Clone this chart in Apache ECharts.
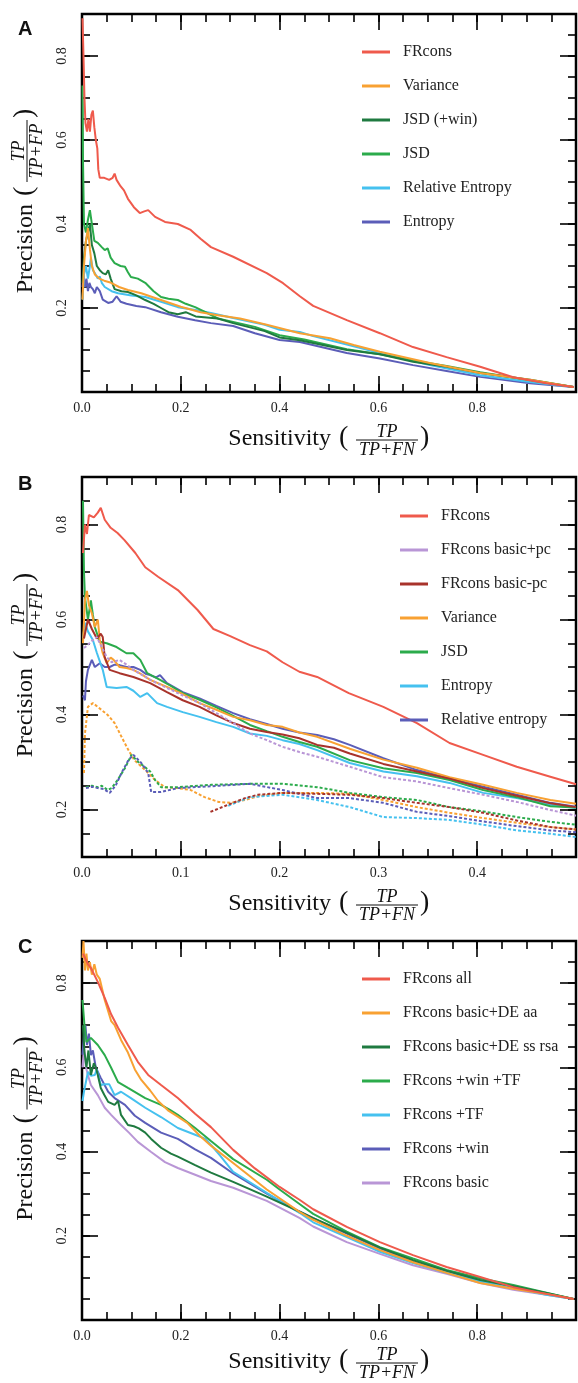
<!DOCTYPE html>
<html><head><meta charset="utf-8">
<script src="https://cdn.jsdelivr.net/npm/echarts@6/dist/echarts.min.js"></script>
<style>html,body{margin:0;padding:0;background:#fff}#c{width:578px;height:1383px}</style>
</head><body><div id="c"></div>
<script>
// ---------- tick labels ----------
const xTicksFull = [0, 0.2, 0.4, 0.6, 0.8];
const xTicksHalf = [0, 0.1, 0.2, 0.3, 0.4];
const yTicks = [0.2, 0.4, 0.6, 0.8];

// ---------- Panel A ----------
const aNames = ['FRcons', 'Variance', 'JSD (+win)', 'JSD', 'Relative Entropy', 'Entropy'];
const aFRcons = [[0.001,0.89],[0.003,0.80],[0.005,0.70],[0.007,0.64],[0.010,0.62],[0.013,0.65],[0.016,0.62],[0.019,0.66],[0.022,0.67],[0.025,0.63],[0.028,0.60],[0.031,0.58],[0.033,0.53],[0.036,0.51],[0.045,0.51],[0.055,0.505],[0.062,0.51],[0.066,0.52],[0.070,0.505],[0.078,0.49],[0.085,0.48],[0.093,0.46],[0.105,0.44],[0.117,0.426],[0.126,0.43],[0.134,0.433],[0.148,0.417],[0.168,0.405],[0.194,0.40],[0.22,0.386],[0.24,0.365],[0.261,0.345],[0.306,0.322],[0.374,0.283],[0.407,0.259],[0.441,0.228],[0.468,0.205],[0.536,0.171],[0.603,0.140],[0.67,0.107],[0.738,0.083],[0.806,0.06],[0.873,0.035],[0.94,0.021],[0.995,0.012]];
const aVariance = [[0.001,0.22],[0.004,0.30],[0.008,0.36],[0.012,0.39],[0.016,0.34],[0.02,0.30],[0.026,0.28],[0.035,0.27],[0.045,0.265],[0.059,0.26],[0.075,0.25],[0.093,0.243],[0.12,0.235],[0.16,0.219],[0.2,0.203],[0.24,0.19],[0.275,0.183],[0.32,0.175],[0.374,0.16],[0.441,0.14],[0.502,0.128],[0.55,0.112],[0.603,0.096],[0.704,0.069],[0.806,0.045],[0.907,0.029],[0.995,0.012]];
const aJSDwin = [[0.001,0.26],[0.004,0.32],[0.008,0.36],[0.012,0.38],[0.016,0.40],[0.02,0.35],[0.025,0.33],[0.03,0.30],[0.036,0.29],[0.042,0.283],[0.048,0.28],[0.053,0.29],[0.058,0.27],[0.066,0.245],[0.08,0.24],[0.093,0.238],[0.11,0.23],[0.128,0.219],[0.145,0.21],[0.16,0.2],[0.175,0.19],[0.194,0.185],[0.21,0.19],[0.23,0.18],[0.275,0.175],[0.306,0.164],[0.37,0.145],[0.40,0.13],[0.441,0.123],[0.536,0.10],[0.603,0.09],[0.67,0.072],[0.738,0.06],[0.806,0.045],[0.907,0.029],[0.995,0.012]];
const aJSD = [[0.001,0.73],[0.002,0.55],[0.004,0.40],[0.008,0.38],[0.012,0.41],[0.016,0.433],[0.02,0.40],[0.025,0.36],[0.032,0.355],[0.04,0.345],[0.046,0.338],[0.052,0.342],[0.058,0.32],[0.066,0.307],[0.078,0.30],[0.087,0.298],[0.093,0.285],[0.099,0.274],[0.113,0.27],[0.128,0.26],[0.145,0.24],[0.16,0.226],[0.175,0.222],[0.194,0.219],[0.21,0.21],[0.229,0.202],[0.25,0.19],[0.275,0.175],[0.306,0.167],[0.35,0.155],[0.40,0.135],[0.45,0.125],[0.536,0.102],[0.603,0.09],[0.67,0.075],[0.738,0.062],[0.806,0.047],[0.907,0.028],[0.995,0.012]];
const aRelEnt = [[0.001,0.22],[0.004,0.28],[0.008,0.30],[0.012,0.27],[0.016,0.30],[0.018,0.32],[0.022,0.29],[0.026,0.283],[0.032,0.27],[0.036,0.275],[0.04,0.26],[0.046,0.25],[0.06,0.24],[0.073,0.235],[0.1,0.23],[0.128,0.226],[0.16,0.215],[0.194,0.202],[0.23,0.195],[0.261,0.188],[0.306,0.176],[0.37,0.16],[0.40,0.148],[0.441,0.143],[0.468,0.133],[0.536,0.113],[0.603,0.093],[0.704,0.064],[0.806,0.04],[0.907,0.024],[0.995,0.012]];
const aEntropy = [[0.001,0.25],[0.003,0.28],[0.006,0.25],[0.009,0.27],[0.012,0.24],[0.015,0.26],[0.018,0.25],[0.022,0.245],[0.026,0.235],[0.03,0.25],[0.036,0.24],[0.042,0.22],[0.053,0.212],[0.062,0.215],[0.07,0.228],[0.078,0.215],[0.09,0.21],[0.11,0.205],[0.128,0.202],[0.16,0.19],[0.194,0.179],[0.229,0.171],[0.261,0.164],[0.306,0.157],[0.35,0.14],[0.40,0.124],[0.441,0.119],[0.536,0.093],[0.603,0.08],[0.67,0.064],[0.738,0.05],[0.806,0.036],[0.907,0.021],[0.995,0.012]];

// ---------- Panel B ----------
const bNames = ['FRcons', 'FRcons basic+pc', 'FRcons basic-pc', 'Variance', 'JSD', 'Entropy', 'Relative entropy'];
const bFRcons = [[0.001,0.74],[0.003,0.80],[0.005,0.78],[0.007,0.82],[0.012,0.815],[0.016,0.825],[0.019,0.835],[0.023,0.81],[0.029,0.793],[0.036,0.782],[0.043,0.767],[0.054,0.74],[0.064,0.71],[0.077,0.69],[0.097,0.662],[0.117,0.62],[0.133,0.58],[0.15,0.565],[0.17,0.546],[0.187,0.533],[0.203,0.51],[0.22,0.49],[0.238,0.479],[0.27,0.445],[0.305,0.416],[0.339,0.382],[0.372,0.34],[0.406,0.315],[0.44,0.29],[0.474,0.269],[0.5,0.253]];
const bBasicPlus = [[0.002,0.54],[0.005,0.545],[0.01,0.555],[0.015,0.563],[0.018,0.55],[0.025,0.521],[0.03,0.51],[0.038,0.515],[0.045,0.505],[0.052,0.494],[0.069,0.473],[0.086,0.456],[0.102,0.44],[0.119,0.424],[0.136,0.403],[0.153,0.382],[0.17,0.36],[0.187,0.346],[0.203,0.332],[0.22,0.321],[0.238,0.311],[0.271,0.29],[0.305,0.268],[0.339,0.259],[0.372,0.245],[0.406,0.231],[0.44,0.216],[0.474,0.199],[0.5,0.187]];
const bBasicMinus = [[0.002,0.56],[0.006,0.60],[0.01,0.58],[0.015,0.56],[0.019,0.57],[0.021,0.563],[0.023,0.521],[0.028,0.494],[0.038,0.487],[0.052,0.479],[0.069,0.466],[0.086,0.447],[0.102,0.43],[0.119,0.416],[0.136,0.398],[0.153,0.382],[0.17,0.37],[0.187,0.363],[0.203,0.358],[0.22,0.35],[0.238,0.336],[0.255,0.33],[0.271,0.318],[0.305,0.296],[0.339,0.28],[0.372,0.265],[0.406,0.245],[0.44,0.229],[0.474,0.213],[0.5,0.205]];
const bVariance = [[0.001,0.55],[0.003,0.64],[0.005,0.66],[0.007,0.63],[0.01,0.613],[0.013,0.584],[0.016,0.6],[0.018,0.557],[0.021,0.529],[0.025,0.508],[0.029,0.52],[0.032,0.515],[0.038,0.50],[0.045,0.498],[0.052,0.494],[0.06,0.485],[0.069,0.473],[0.086,0.458],[0.1,0.445],[0.119,0.424],[0.136,0.41],[0.153,0.395],[0.17,0.388],[0.187,0.378],[0.203,0.374],[0.22,0.362],[0.238,0.353],[0.271,0.328],[0.305,0.305],[0.339,0.288],[0.372,0.268],[0.406,0.252],[0.44,0.235],[0.474,0.22],[0.5,0.212]];
const bJSD = [[0.001,0.85],[0.002,0.70],[0.003,0.647],[0.006,0.60],[0.009,0.64],[0.011,0.61],[0.013,0.584],[0.018,0.553],[0.025,0.55],[0.035,0.542],[0.045,0.529],[0.052,0.529],[0.059,0.515],[0.066,0.487],[0.079,0.473],[0.09,0.46],[0.102,0.445],[0.119,0.431],[0.136,0.415],[0.153,0.397],[0.17,0.378],[0.187,0.365],[0.203,0.353],[0.22,0.342],[0.238,0.332],[0.271,0.304],[0.305,0.287],[0.339,0.277],[0.372,0.262],[0.406,0.241],[0.44,0.226],[0.474,0.207],[0.5,0.204]];
const bEntropy = [[0.001,0.56],[0.003,0.593],[0.006,0.575],[0.011,0.557],[0.015,0.53],[0.021,0.494],[0.025,0.458],[0.035,0.456],[0.045,0.458],[0.052,0.45],[0.059,0.437],[0.066,0.445],[0.076,0.424],[0.086,0.416],[0.102,0.405],[0.119,0.395],[0.136,0.384],[0.153,0.374],[0.17,0.36],[0.187,0.355],[0.203,0.346],[0.22,0.338],[0.238,0.325],[0.271,0.298],[0.305,0.28],[0.339,0.27],[0.372,0.256],[0.406,0.235],[0.44,0.224],[0.474,0.21],[0.5,0.203]];
const bRelEnt = [[0.001,0.44],[0.003,0.43],[0.004,0.47],[0.006,0.494],[0.01,0.515],[0.013,0.50],[0.018,0.508],[0.023,0.50],[0.028,0.50],[0.033,0.505],[0.038,0.504],[0.045,0.50],[0.052,0.50],[0.059,0.494],[0.065,0.485],[0.069,0.483],[0.075,0.478],[0.079,0.483],[0.086,0.466],[0.102,0.447],[0.119,0.434],[0.136,0.418],[0.153,0.403],[0.17,0.39],[0.187,0.38],[0.203,0.37],[0.22,0.362],[0.238,0.357],[0.255,0.348],[0.271,0.336],[0.305,0.308],[0.339,0.283],[0.372,0.266],[0.406,0.248],[0.44,0.231],[0.474,0.214],[0.5,0.206]];
// dashed companions (not in legend)
const bVarianceD = [[0.002,0.277],[0.003,0.36],[0.006,0.416],[0.011,0.424],[0.016,0.416],[0.026,0.399],[0.033,0.382],[0.04,0.353],[0.047,0.325],[0.053,0.304],[0.064,0.283],[0.074,0.262],[0.084,0.247],[0.097,0.245],[0.11,0.241],[0.124,0.226],[0.138,0.216],[0.151,0.214],[0.165,0.22],[0.178,0.228],[0.203,0.235],[0.238,0.235],[0.271,0.233],[0.305,0.22],[0.339,0.205],[0.372,0.193],[0.406,0.182],[0.44,0.172],[0.474,0.163],[0.5,0.158]];
const bJSDD = [[0.004,0.247],[0.01,0.25],[0.016,0.247],[0.02,0.25],[0.026,0.241],[0.03,0.245],[0.036,0.262],[0.044,0.289],[0.05,0.315],[0.057,0.3],[0.064,0.289],[0.069,0.28],[0.074,0.262],[0.08,0.247],[0.097,0.247],[0.131,0.252],[0.17,0.254],[0.203,0.254],[0.238,0.247],[0.271,0.235],[0.305,0.226],[0.339,0.22],[0.372,0.205],[0.406,0.196],[0.44,0.184],[0.474,0.174],[0.5,0.168]];
const bRelEntD = [[0.004,0.245],[0.01,0.248],[0.016,0.245],[0.022,0.243],[0.028,0.235],[0.034,0.25],[0.04,0.277],[0.047,0.304],[0.052,0.315],[0.06,0.298],[0.067,0.277],[0.07,0.237],[0.08,0.237],[0.097,0.245],[0.131,0.249],[0.17,0.254],[0.203,0.241],[0.238,0.224],[0.271,0.224],[0.305,0.214],[0.339,0.195],[0.372,0.186],[0.406,0.175],[0.44,0.165],[0.474,0.156],[0.5,0.152]];
const bEntropyD = [[0.148,0.208],[0.17,0.226],[0.203,0.231],[0.238,0.22],[0.271,0.205],[0.305,0.184],[0.339,0.182],[0.372,0.178],[0.406,0.168],[0.44,0.156],[0.474,0.149],[0.5,0.142]];
const bBasicMinusD = [[0.13,0.195],[0.148,0.21],[0.165,0.224],[0.178,0.231],[0.203,0.235],[0.238,0.233],[0.271,0.231],[0.305,0.224],[0.339,0.214],[0.372,0.205],[0.406,0.193],[0.44,0.177],[0.474,0.163],[0.5,0.158]];

// ---------- Panel C ----------
const cNames = ['FRcons all', 'FRcons basic+DE aa', 'FRcons basic+DE ss rsa', 'FRcons +win +TF', 'FRcons +TF', 'FRcons +win', 'FRcons basic'];
const cAll = [[0.002,0.87],[0.006,0.86],[0.012,0.845],[0.018,0.836],[0.032,0.803],[0.046,0.765],[0.059,0.726],[0.073,0.694],[0.093,0.653],[0.113,0.613],[0.134,0.582],[0.16,0.558],[0.194,0.527],[0.229,0.49],[0.261,0.458],[0.306,0.404],[0.35,0.36],[0.40,0.316],[0.441,0.285],[0.468,0.263],[0.536,0.221],[0.603,0.185],[0.67,0.154],[0.738,0.126],[0.806,0.102],[0.873,0.078],[0.94,0.062],[0.995,0.05]];
const cBasicDEaa = [[0.001,0.86],[0.003,0.90],[0.006,0.83],[0.009,0.87],[0.012,0.83],[0.016,0.85],[0.02,0.82],[0.025,0.845],[0.03,0.82],[0.036,0.81],[0.046,0.76],[0.059,0.71],[0.066,0.70],[0.079,0.665],[0.093,0.635],[0.107,0.595],[0.12,0.57],[0.138,0.545],[0.154,0.52],[0.174,0.498],[0.194,0.483],[0.213,0.468],[0.239,0.437],[0.261,0.414],[0.306,0.373],[0.374,0.31],[0.441,0.256],[0.468,0.238],[0.536,0.2],[0.603,0.166],[0.67,0.137],[0.738,0.112],[0.806,0.088],[0.873,0.074],[0.94,0.062],[0.995,0.05]];
const cBasicDEss = [[0.002,0.70],[0.005,0.637],[0.009,0.60],[0.013,0.64],[0.018,0.582],[0.024,0.61],[0.028,0.60],[0.032,0.582],[0.038,0.551],[0.045,0.535],[0.053,0.518],[0.066,0.511],[0.073,0.52],[0.079,0.487],[0.093,0.463],[0.105,0.46],[0.115,0.455],[0.128,0.445],[0.14,0.43],[0.16,0.409],[0.18,0.395],[0.194,0.388],[0.229,0.368],[0.261,0.35],[0.306,0.328],[0.374,0.293],[0.441,0.257],[0.468,0.242],[0.536,0.207],[0.603,0.172],[0.67,0.142],[0.738,0.117],[0.806,0.095],[0.873,0.08],[0.94,0.064],[0.995,0.05]];
const cWinTF = [[0.001,0.76],[0.005,0.70],[0.009,0.66],[0.012,0.66],[0.018,0.67],[0.032,0.653],[0.046,0.629],[0.059,0.599],[0.073,0.565],[0.093,0.551],[0.128,0.527],[0.16,0.511],[0.178,0.499],[0.194,0.487],[0.229,0.456],[0.261,0.425],[0.306,0.382],[0.374,0.333],[0.40,0.31],[0.441,0.275],[0.468,0.252],[0.536,0.21],[0.603,0.173],[0.67,0.146],[0.738,0.119],[0.806,0.099],[0.873,0.083],[0.94,0.065],[0.995,0.05]];
const cTF = [[0.001,0.52],[0.004,0.542],[0.007,0.56],[0.012,0.589],[0.018,0.58],[0.026,0.582],[0.03,0.595],[0.038,0.558],[0.045,0.56],[0.055,0.56],[0.066,0.534],[0.079,0.542],[0.099,0.527],[0.128,0.504],[0.16,0.482],[0.194,0.456],[0.229,0.44],[0.25,0.43],[0.261,0.416],[0.28,0.39],[0.306,0.352],[0.374,0.302],[0.441,0.254],[0.468,0.232],[0.536,0.197],[0.603,0.162],[0.67,0.135],[0.738,0.112],[0.806,0.092],[0.873,0.076],[0.94,0.06],[0.995,0.05]];
const cWin = [[0.001,0.63],[0.004,0.677],[0.007,0.70],[0.01,0.653],[0.014,0.68],[0.018,0.629],[0.022,0.64],[0.028,0.599],[0.038,0.575],[0.053,0.542],[0.066,0.527],[0.087,0.511],[0.107,0.485],[0.128,0.468],[0.16,0.445],[0.194,0.43],[0.229,0.405],[0.261,0.385],[0.306,0.348],[0.374,0.30],[0.441,0.257],[0.468,0.242],[0.536,0.205],[0.603,0.17],[0.67,0.14],[0.738,0.115],[0.806,0.094],[0.873,0.078],[0.94,0.062],[0.995,0.05]];
const cBasic = [[0.001,0.60],[0.004,0.645],[0.008,0.60],[0.012,0.582],[0.018,0.558],[0.032,0.534],[0.046,0.504],[0.059,0.487],[0.079,0.463],[0.095,0.445],[0.113,0.423],[0.14,0.399],[0.168,0.375],[0.194,0.361],[0.229,0.345],[0.261,0.33],[0.306,0.314],[0.374,0.283],[0.441,0.242],[0.468,0.222],[0.536,0.185],[0.603,0.157],[0.67,0.13],[0.738,0.11],[0.806,0.088],[0.873,0.072],[0.94,0.06],[0.995,0.05]];

// ---------- styling ----------
const COL = {red:'#ef5a4c', orange:'#f8a132', dgreen:'#1f7a40', green:'#2bab4b', lblue:'#45c1ef', pblue:'#5b5db8', lilac:'#b996d6', dred:'#a8332b'};
const SERIF = "'Liberation Serif', serif";

const panels = [
  {grid:{left:82, top:14, width:494, height:378}, xMax:1, yMin:0, yMax:0.9, xMinor:0.05, xTicks:xTicksFull, titleOff:54,
   legend:{left:362, top:43}, letter:'A', letterTop:19,
   series:[[aNames[0],aFRcons,COL.red],[aNames[1],aVariance,COL.orange],[aNames[2],aJSDwin,COL.dgreen],[aNames[3],aJSD,COL.green],[aNames[4],aRelEnt,COL.lblue],[aNames[5],aEntropy,COL.pblue]],
   dashed:[]},
  {grid:{left:82, top:477, width:494, height:380}, xMax:0.5, yMin:0.1, yMax:0.9, xMinor:0.025, xTicks:xTicksHalf, titleOff:54,
   legend:{left:400, top:507}, letter:'B', letterTop:474,
   series:[[bNames[0],bFRcons,COL.red],[bNames[1],bBasicPlus,COL.lilac,true],[bNames[2],bBasicMinus,COL.dred],[bNames[3],bVariance,COL.orange],[bNames[4],bJSD,COL.green],[bNames[5],bEntropy,COL.lblue],[bNames[6],bRelEnt,COL.pblue]],
   dashed:[['Variance (dashed)',bVarianceD,COL.orange],['JSD (dashed)',bJSDD,COL.green],['Relative entropy (dashed)',bRelEntD,COL.pblue],['Entropy (dashed)',bEntropyD,COL.lblue],['FRcons basic-pc (dashed)',bBasicMinusD,COL.dred]]},
  {grid:{left:82, top:941, width:494, height:379}, xMax:1, yMin:0, yMax:0.9, xMinor:0.05, xTicks:xTicksFull, titleOff:49,
   legend:{left:362, top:970}, letter:'C', letterTop:937,
   series:[[cNames[0],cAll,COL.red],[cNames[1],cBasicDEaa,COL.orange],[cNames[2],cBasicDEss,COL.dgreen],[cNames[3],cWinTF,COL.green],[cNames[4],cTF,COL.lblue],[cNames[5],cWin,COL.pblue],[cNames[6],cBasic,COL.lilac]],
   dashed:[]}
];

const grids = [], xAxes = [], yAxes = [], series = [], legends = [], titles = [], graphics = [];
const tickStyle = {color:'#000', width:1.6};
const noLine = {show:false, onZero:false};
const fmt = v => v.toFixed(1);

function txt(text, x, y, size, align, italic) {
  return {type:'text', x:x, y:y, style:{text:text, fill:'#111', fontSize:size, fontFamily:SERIF, fontStyle:italic?'italic':'normal',
    align:align, textAlign:align, verticalAlign:'middle', textVerticalAlign:'middle'}};
}
function fracTitle(word, num, den, x, y, rot, wordEnd, lp, fc, rp) {
  const half = 31;
  return {type:'group', x:x, y:y, rotation:rot, silent:true, children:[
    txt(word, wordEnd, -7, 24, 'right', false),
    txt('(', lp, -8, 28, 'left', false),
    txt(num, fc, -14, 18, 'center', true),
    {type:'line', shape:{x1:fc-half, y1:-6, x2:fc+half, y2:-6}, style:{stroke:'#111', lineWidth:1}},
    txt(den, fc, 4, 18, 'center', true),
    txt(')', rp, -8, 28, 'left', false)
  ]};
}

panels.forEach((p, i) => {
  const g = Object.assign({}, p.grid);
  grids.push(Object.assign({show:true, borderColor:'#000', borderWidth:2.5, backgroundColor:'transparent', outerBoundsMode:'none'}, g));
  grids.push(Object.assign({show:false, outerBoundsMode:'none'}, g));
  const mainG = 2*i, minG = 2*i+1;
  ['bottom','top'].forEach(pos => {
    xAxes.push({gridIndex:mainG, type:'value', min:0, max:p.xMax, position:pos,
      axisLine:noLine, splitLine:{show:false},
      axisTick:{show:true, inside:true, length:16, customValues:p.xTicks, lineStyle:tickStyle},
      axisLabel:{show:pos==='bottom', customValues:p.xTicks, formatter:fmt, margin:9, fontSize:14, fontFamily:SERIF, color:'#222'}});
  });
  ['bottom','top'].forEach(pos => {
    xAxes.push({gridIndex:minG, type:'value', min:0, max:p.xMax, interval:p.xMinor, position:pos,
      axisLine:noLine, splitLine:{show:false},
      axisTick:{show:true, inside:true, length:8, lineStyle:tickStyle}, axisLabel:{show:false}});
  });
  ['left','right'].forEach(pos => {
    yAxes.push({gridIndex:mainG, type:'value', min:p.yMin, max:p.yMax, position:pos,
      axisLine:noLine, splitLine:{show:false},
      axisTick:{show:true, inside:true, length:16, customValues:yTicks, lineStyle:tickStyle},
      axisLabel:{show:pos==='left', customValues:yTicks, formatter:fmt, rotate:90, margin:13, fontSize:14, fontFamily:SERIF, color:'#222'}});
  });
  ['left','right'].forEach(pos => {
    yAxes.push({gridIndex:minG, type:'value', min:p.yMin, max:p.yMax, interval:0.05, position:pos,
      axisLine:noLine, splitLine:{show:false},
      axisTick:{show:true, inside:true, length:8, lineStyle:tickStyle}, axisLabel:{show:false}});
  });
  const xi = 4*i, yi = 4*i;
  p.dashed.forEach(s => series.push({type:'line', name:s[0], xAxisIndex:xi, yAxisIndex:yi, data:s[1], showSymbol:false, symbol:'none',
     lineStyle:{color:s[2], width:2, type:[3,2]}, itemStyle:{color:s[2]}, z:2}));
  p.series.slice().reverse().forEach(s => series.push({type:'line', name:s[0], xAxisIndex:xi, yAxisIndex:yi, data:s[1], showSymbol:false, symbol:'none',
     lineStyle:{color:s[2], width:2, type:s[3]?[3,2]:'solid'}, itemStyle:{color:s[2]}, z:3}));
  legends.push({show:true, orient:'vertical', left:p.legend.left, top:p.legend.top, itemWidth:28, itemHeight:3, itemGap:16, icon:'rect',
     selectedMode:false, padding:0,
     data:p.series.map(s => ({name:s[0], itemStyle:{color:s[2]}})),
     textStyle:{fontFamily:SERIF, fontSize:16, color:'#222', lineHeight:18, padding:[0,0,0,8]}});
  titles.push({text:p.letter, left:18, top:p.letterTop, padding:0, textStyle:{fontFamily:"'Liberation Sans', sans-serif", fontSize:20, fontWeight:'bold', color:'#111'}});

  const gx = p.grid, bottom = gx.top + gx.height;
  graphics.push(fracTitle('Sensitivity', 'TP', 'TP+FN', gx.left + gx.width/2, bottom + p.titleOff, 0, 2, 10, 58, 91));
  graphics.push(fracTitle('Precision', 'TP', 'TP+FP', 33, gx.top + gx.height/2, Math.PI/2, -1, 7, 52, 85));
});

const chart = echarts.init(document.getElementById('c'), null, {renderer:'canvas'});
chart.setOption({
  animation:false,
  backgroundColor:'#fff',
  textStyle:{fontFamily:SERIF},
  title:titles, grid:grids, xAxis:xAxes, yAxis:yAxes, legend:legends, series:series,
  graphic:{elements:graphics}
});
</script></body></html>
